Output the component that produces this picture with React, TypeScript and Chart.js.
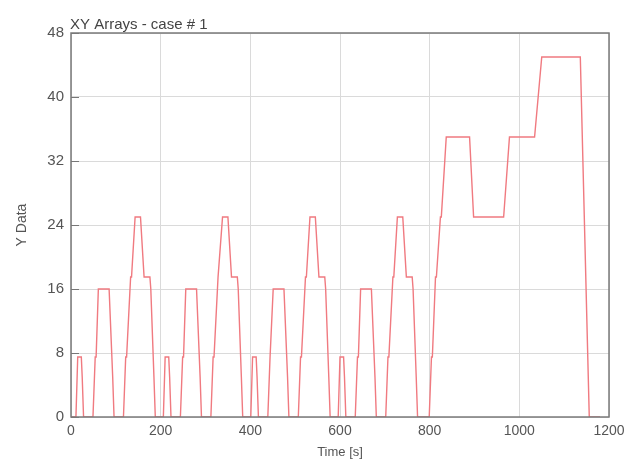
import React, { useEffect, useRef } from "react";
import { Chart, registerables } from "chart.js";

Chart.register(...registerables);

const chartTitle = "XY Arrays - case # 1";
const xAxisTitle = "Time [s]";
const yAxisTitle = "Y Data";

// Time samples [s]
const timeS = [
  0, 11, 15, 23, 25, 28, 49, 54, 56, 61, 85, 93, 96, 117, 122, 124, 133, 135, 143, 155, 163, 176, 178, 185, 188,
  206, 210, 218, 220, 223, 244, 249, 251, 256, 280, 288, 291, 312, 317, 319, 328, 330, 338, 350, 358, 371, 373, 380, 383,
  401, 405, 413, 415, 418, 439, 444, 446, 451, 475, 483, 486, 507, 512, 514, 523, 525, 533, 545, 553, 566, 568, 575, 578,
  596, 600, 608, 610, 613, 634, 639, 641, 646, 670, 678, 681, 702, 707, 709, 718, 720, 728, 740, 748, 761, 763, 770, 773,
  799, 804, 806, 813, 815, 824, 826, 837, 889, 898, 965, 978, 1034, 1050, 1136, 1156, 1180,
];

// Y values
const yData = [
  0, 0, 7.5, 7.5, 5, 0, 0, 7.5, 7.5, 16, 16, 5, 0, 0, 7.5, 7.5, 17.5, 17.5, 25, 25, 17.5, 17.5, 16, 5, 0,
  0, 7.5, 7.5, 5, 0, 0, 7.5, 7.5, 16, 16, 5, 0, 0, 7.5, 7.5, 17.5, 17.5, 25, 25, 17.5, 17.5, 16, 5, 0,
  0, 7.5, 7.5, 5, 0, 0, 7.5, 7.5, 16, 16, 5, 0, 0, 7.5, 7.5, 17.5, 17.5, 25, 25, 17.5, 17.5, 16, 5, 0,
  0, 7.5, 7.5, 5, 0, 0, 7.5, 7.5, 16, 16, 5, 0, 0, 7.5, 7.5, 17.5, 17.5, 25, 25, 17.5, 17.5, 16, 5, 0,
  0, 7.5, 7.5, 17.5, 17.5, 25, 25, 35, 35, 25, 25, 35, 35, 45, 45, 0, 0,
];

const xMin = 0;
const xMax = 1200;
const xStep = 200;
const yMin = 0;
const yMax = 48;
const yStep = 8;

const FONT = "'Liberation Sans', Arial, sans-serif";
const TEXT = "#555555";

const framePlugin = {
  id: "frameAndTitle",
  afterDatasetsDraw(chart: any) {
    const { ctx, chartArea } = chart;
    const { left, top, right, bottom } = chartArea;
    ctx.save();
    // inner tick marks on y axis
    const ys = chart.scales.y;
    ctx.strokeStyle = "#777777";
    ctx.lineWidth = 1;
    ys.ticks.forEach((t: any) => {
      const py = Math.round(ys.getPixelForValue(t.value)) + 0.5;
      ctx.beginPath();
      ctx.moveTo(left, py);
      ctx.lineTo(left + 8, py);
      ctx.stroke();
    });
    // frame
    ctx.strokeStyle = "#7a7a7a";
    ctx.lineWidth = 1.5;
    ctx.strokeRect(left, top, right - left, bottom - top);
    // title
    ctx.fillStyle = "#444444";
    ctx.font = `15px ${FONT}`;
    ctx.textAlign = "left";
    ctx.textBaseline = "alphabetic";
    ctx.fillText(chartTitle, left - 1, top - 4);
    ctx.restore();
  },
};

export default function App() {
  const ref = useRef<HTMLCanvasElement | null>(null);

  useEffect(() => {
    document.body.style.margin = "0";
    const canvas = ref.current;
    if (!canvas) return;
    const points = timeS.map((t, i) => ({ x: t, y: yData[i] }));
    const chart = new Chart(canvas, {
      type: "line",
      data: {
        datasets: [
          {
            data: points,
            borderColor: "#f07a80",
            borderWidth: 1.4,
            pointRadius: 0,
            fill: false,
            tension: 0,
          },
        ],
      },
      options: {
        responsive: false,
        animation: false,
        devicePixelRatio: 1,
        layout: { padding: { top: 33, right: 26, left: 0, bottom: 0 } },
        plugins: {
          legend: { display: false },
          tooltip: { enabled: false },
          title: { display: false },
        },
        scales: {
          x: {
            type: "linear",
            min: xMin,
            max: xMax,
            ticks: {
              stepSize: xStep,
              color: TEXT,
              font: { family: FONT, size: 14 },
              padding: 6,
              maxRotation: 0,
              callback: (v: any) => String(v),
            },
            grid: { color: "#dadada", drawTicks: false, lineWidth: 1 },
            border: { display: false },
            title: {
              display: true,
              text: xAxisTitle,
              color: TEXT,
              font: { family: FONT, size: 13 },
              padding: { top: 0, bottom: 1 },
            },
            afterFit: (s: any) => {
              s.height = 44;
            },
          },
          y: {
            min: yMin,
            max: yMax,
            ticks: {
              stepSize: yStep,
              color: TEXT,
              font: { family: FONT, size: 15 },
              padding: 7,
              callback: (v: any) => String(v),
            },
            grid: { color: "#dadada", drawTicks: false, lineWidth: 1 },
            border: { display: false },
            title: {
              display: true,
              text: yAxisTitle,
              color: TEXT,
              font: { family: FONT, size: 14 },
              padding: { top: 14, bottom: 0 },
            },
            afterFit: (s: any) => {
              s.width = 71;
            },
          },
        },
      },
      plugins: [framePlugin],
    });
    return () => chart.destroy();
  }, []);

  return (
    <div style={{ position: "absolute", left: 0, top: 0, width: 635, height: 461, background: "#fff" }}>
      <canvas ref={ref} width={635} height={461} style={{ width: 635, height: 461, display: "block" }} />
    </div>
  );
}
